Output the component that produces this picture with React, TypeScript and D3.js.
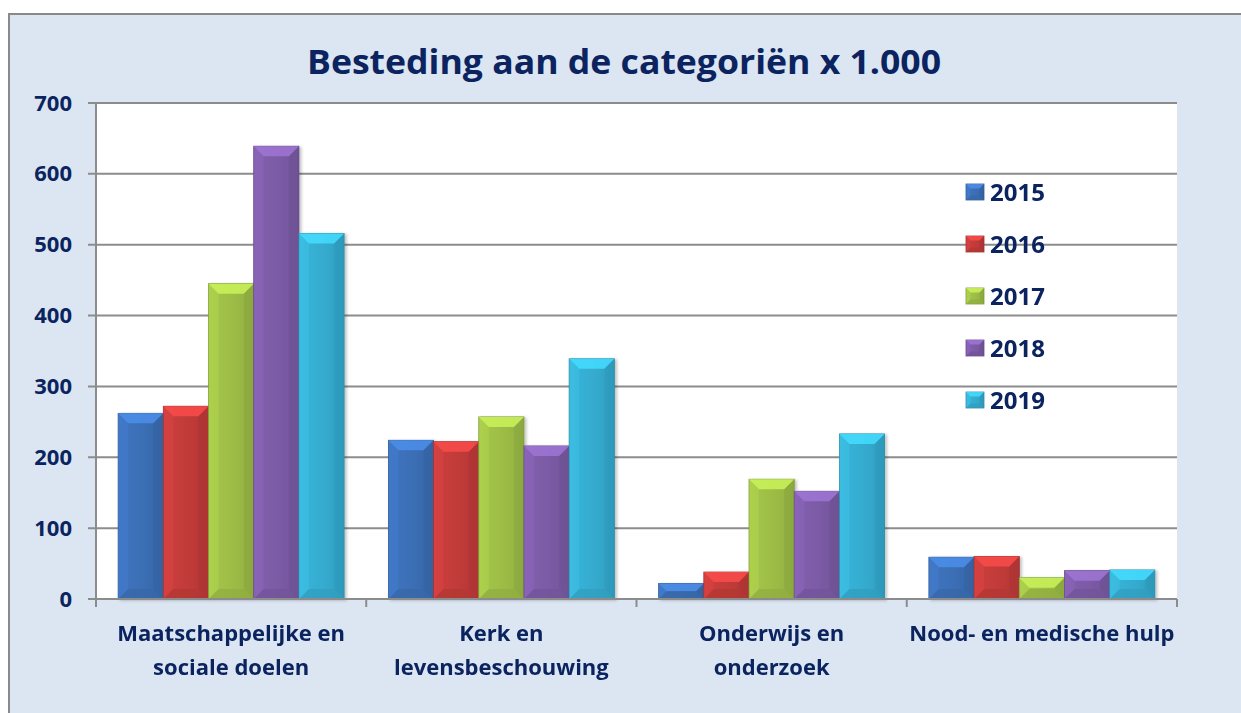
import React from "react";
import * as d3 from "d3";

const categories: string[][] = [
  ["Maatschappelijke en", "sociale doelen"],
  ["Kerk en", "levensbeschouwing"],
  ["Onderwijs en", "onderzoek"],
  ["Nood- en medische hulp"],
];
const years = ["2015", "2016", "2017", "2018", "2019"];
const v2015 = [262, 224, 22, 59];
const v2016 = [272, 222, 38, 60];
const v2017 = [445, 257, 169, 30];
const v2018 = [639, 216, 152, 40];
const v2019 = [516, 339, 233, 41];
const series = [v2015, v2016, v2017, v2018, v2019];
const yTicks = [0, 100, 200, 300, 400, 500, 600, 700];
const title = "Besteding aan de categoriën x 1.000";

const colors = ["#3b6fb6", "#c23b3a", "#9dbd46", "#7c5ba6", "#35acd0"];

const W = 1241;
const H = 713;
const left = 96, right = 1177, top = 103, bottom = 599;
const textColor = "#0b2460";
const font = "'Open Sans', Lato, sans-serif";

function Bar({ x, y, w, h, c, id }: any) {
  const b = Math.min(10, h / 2, w / 4);
  const light = d3.color(c)!.brighter(0.7).formatHex();
  const dark = d3.color(c)!.darker(0.6).formatHex();
  const mid = d3.color(c)!.darker(0.25).formatHex();
  return (
    <g>
      <rect x={x} y={y} width={w} height={h} fill={`url(#g${id})`} stroke={dark} strokeWidth={0.8} />
      <polygon points={`${x},${y} ${x + w},${y} ${x + w - b},${y + b} ${x + b},${y + b}`} fill={light} opacity={0.85} />
      <polygon points={`${x},${y + h} ${x + w},${y + h} ${x + w - b},${y + h - b} ${x + b},${y + h - b}`} fill={mid} opacity={0.7} />
      <polygon points={`${x},${y} ${x + b},${y + b} ${x + b},${y + h - b} ${x},${y + h}`} fill={light} opacity={0.2} />
      <polygon points={`${x + w},${y} ${x + w - b},${y + b} ${x + w - b},${y + h - b} ${x + w},${y + h}`} fill={dark} opacity={0.3} />
    </g>
  );
}

export default function App() {
  const x0 = d3.scaleBand<number>().domain(d3.range(categories.length)).range([left, right]).paddingInner(0).paddingOuter(0);
  const x1 = d3.scaleBand<number>().domain(d3.range(years.length)).range([0, x0.bandwidth()]).paddingOuter(0.49).paddingInner(0);
  const y = d3.scaleLinear().domain([0, 700]).range([bottom, top]);

  const legendX = 966;
  const legendY0 = 192;
  const legendStep = 52;

  return (
    <svg width={W} height={H} style={{ position: "absolute", left: 0, top: 0 }}>
      <defs>
        {colors.map((c, i) => {
          const l = d3.color(c)!.brighter(0.15).formatHex();
          const d = d3.color(c)!.darker(0.2).formatHex();
          return (
            <linearGradient key={i} id={`g${i}`} x1="0" y1="0" x2="1" y2="0">
              <stop offset="0" stopColor={l} />
              <stop offset="0.5" stopColor={c} />
              <stop offset="1" stopColor={d} />
            </linearGradient>
          );
        })}
        <filter id="sh" x="-10%" y="-10%" width="130%" height="130%">
          <feDropShadow dx="2" dy="1" stdDeviation="1.5" floodColor="#000" floodOpacity="0.25" />
        </filter>
      </defs>
      <rect x={9} y={14} width={W} height={H} fill="#dce6f2" stroke="#8a8a8a" strokeWidth={2} />
      <rect x={left} y={top} width={right - left} height={bottom - top} fill="#ffffff" />
      <text x={624} y={74} textAnchor="middle" fontFamily={font} fontWeight={700} fontSize={34} fill={textColor} textLength={634} lengthAdjust="spacingAndGlyphs">{title}</text>

      {yTicks.map((t) => (
        <line key={t} x1={left - 8} x2={right} y1={y(t)} y2={y(t)} stroke="#8c8c8c" strokeWidth={2} />
      ))}
      {yTicks.map((t) => (
        <text key={"l" + t} x={72} y={y(t) + 7.5} textAnchor="end" fontFamily={font} fontWeight={700} fontSize={22} fill={textColor}>{t}</text>
      ))}

      <g filter="url(#sh)">
        {categories.map((_, ci) =>
          series.map((s, si) => {
            const bx = x0(ci)! + x1(si)!;
            const by = y(s[ci]);
            return <Bar key={ci + "-" + si} x={bx} y={by} w={x1.bandwidth()} h={bottom - by} c={colors[si]} id={si} />;
          })
        )}
      </g>

      <line x1={left} x2={left} y1={top} y2={bottom} stroke="#8c8c8c" strokeWidth={2} />
      <line x1={left - 8} x2={right} y1={bottom} y2={bottom} stroke="#8c8c8c" strokeWidth={2} />
      {d3.range(categories.length + 1).map((i) => {
        const xx = left + i * x0.bandwidth();
        return <line key={"t" + i} x1={xx} x2={xx} y1={bottom} y2={bottom + 8} stroke="#8c8c8c" strokeWidth={2} />;
      })}

      {categories.map((lines, ci) => (
        <text key={"c" + ci} textAnchor="middle" fontFamily={font} fontWeight={700} fontSize={22} fill={textColor}>
          {lines.map((ln, li) => (
            <tspan key={li} x={x0(ci)! + x0.bandwidth() / 2} y={641 + li * 34}>{ln}</tspan>
          ))}
        </text>
      ))}

      {years.map((yr, i) => {
        const ly = legendY0 + i * legendStep;
        return (
          <g key={yr}>
            <Bar x={legendX} y={ly - 8} w={18} h={16} c={colors[i]} id={i} />
            <text x={legendX + 24} y={ly + 8.5} fontFamily={font} fontWeight={700} fontSize={24} fill={textColor}>{yr}</text>
          </g>
        );
      })}
    </svg>
  );
}
